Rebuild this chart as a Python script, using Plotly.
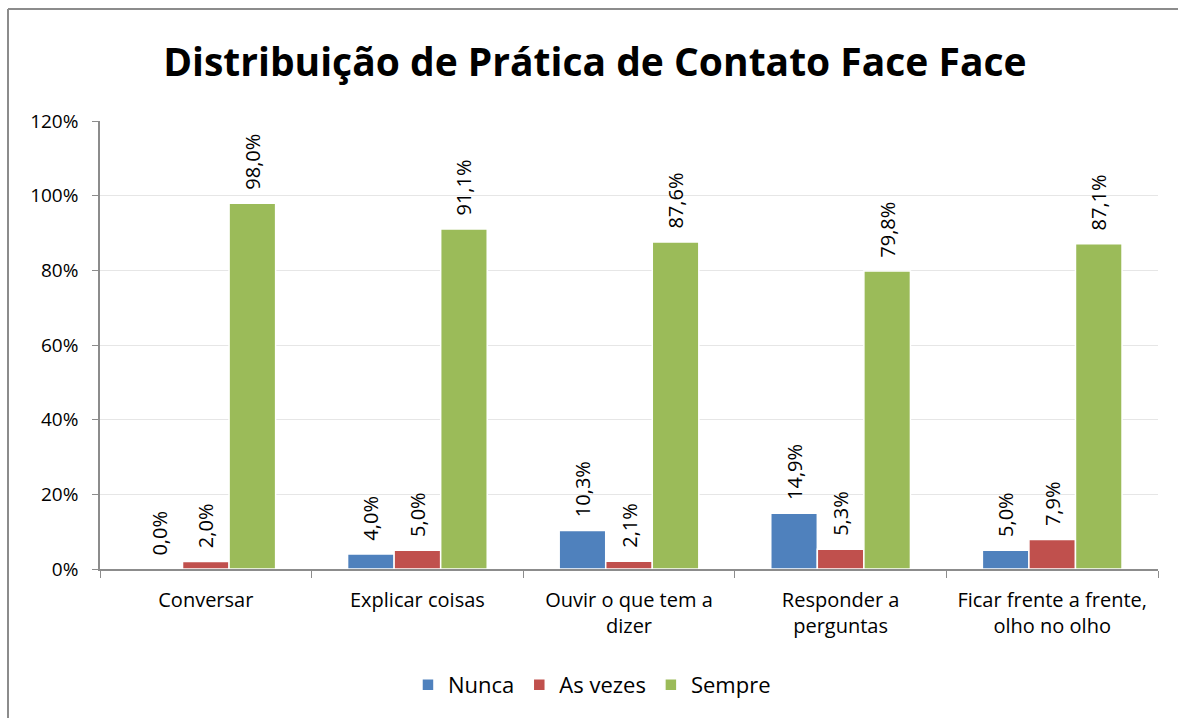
import plotly.graph_objects as go

categories = ["Conversar", "Explicar coisas", "Ouvir o que tem a<br>dizer", "Responder a<br>perguntas", "Ficar frente a frente,<br>olho no olho"]
nunca = [0.0, 4.0, 10.3, 14.9, 5.0]
as_vezes = [2.0, 5.0, 2.1, 5.3, 7.9]
sempre = [98.0, 91.1, 87.6, 79.8, 87.1]
series_names = ["Nunca", "As vezes", "Sempre"]
colors = ["#4F81BD", "#C0504D", "#9BBB59"]

FONT = "Open Sans, Liberation Sans, sans-serif"

def fmt(v):
    return "\u00a0\u00a0" + f"{v:.1f}%".replace(".", ",")

fig = go.Figure()
for name, vals, col in zip(series_names, [nunca, as_vezes, sempre], colors):
    fig.add_trace(go.Bar(
        name=name, x=categories, y=vals, marker=dict(color=col, line=dict(color="white", width=1.5)),
        text=[fmt(v) for v in vals], textposition="outside", textangle=-90, constraintext="none",
        textfont=dict(size=20, color="#000000", family=FONT), cliponaxis=False,
    ))

W, H = 1178, 718
ML, MR, MT, MB = 100, 20, 121, 149
pw = W - ML - MR
ph = H - MT - MB

def px_x(x):
    return (x - ML) / pw

def px_y(y):
    return (H - MB - y) / ph

fig.update_layout(
    width=W, height=H,
    paper_bgcolor="white", plot_bgcolor="white",
    barmode="group", bargap=0.34, bargroupgap=0.0,
    margin=dict(l=ML, r=MR, t=MT, b=MB),
    title=dict(text="<b>Distribuição de Prática de Contato Face Face</b>", x=0.505, xanchor="center",
               y=1 - 62 / H, yanchor="middle", font=dict(size=39, color="#000000", family=FONT)),
    font=dict(family=FONT, size=20, color="#000000"),
    legend=dict(orientation="h", x=0.465, xanchor="center", y=px_y(685), yanchor="middle",
                font=dict(size=22, family=FONT), traceorder="normal"),
    shapes=[
        dict(type="line", xref="paper", yref="paper", x0=px_x(8), x1=px_x(8), y0=-1, y1=px_y(9),
             line=dict(color="#8C8C8C", width=2)),
        dict(type="line", xref="paper", yref="paper", x0=px_x(8), x1=1.2, y0=px_y(9), y1=px_y(9),
             line=dict(color="#8C8C8C", width=2)),
    ],
)
fig.update_yaxes(range=[0, 120], dtick=20, ticksuffix="%", showgrid=True, gridcolor="#E6E6E6",
                 showline=True, linecolor="#8C8C8C", linewidth=1.5, ticks="outside", ticklen=6,
                 tickcolor="#8C8C8C", tickfont=dict(size=19), zeroline=False, ticklabelstandoff=10)
fig.update_xaxes(showline=True, linecolor="#8C8C8C", linewidth=1.5, ticks="outside", ticklen=7,
                 tickcolor="#8C8C8C", tickson="boundaries", tickfont=dict(size=20), ticklabelstandoff=12)

fig.write_html("out.html", config={"displayModeBar": False},
               post_script="document.body.style.margin='0';document.body.style.overflow='hidden';")
